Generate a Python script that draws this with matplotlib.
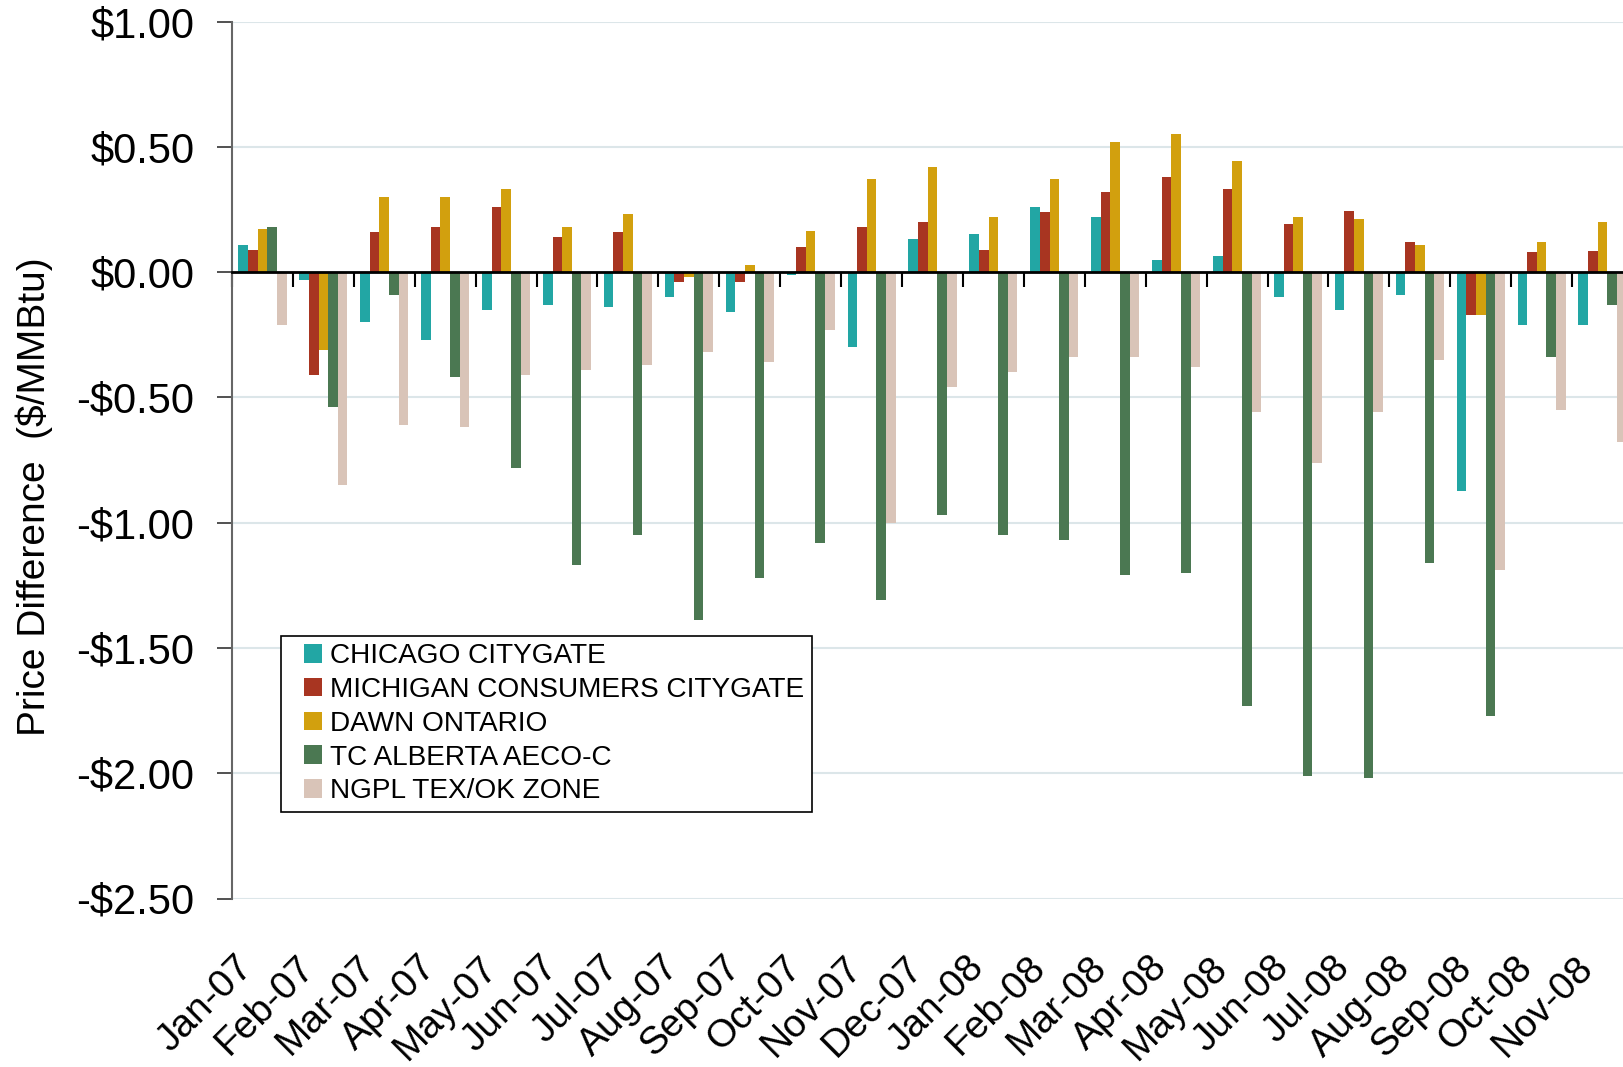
import matplotlib.pyplot as plt
import numpy as np
from matplotlib.patches import Patch, Rectangle
from matplotlib.legend_handler import HandlerPatch

plt.rcParams['font.family'] = ['Liberation Sans', 'DejaVu Sans']

# month labels and the five hub price differences ($/MMBtu)
months = ["Jan-07", "Feb-07", "Mar-07", "Apr-07", "May-07", "Jun-07", "Jul-07", "Aug-07",
          "Sep-07", "Oct-07", "Nov-07", "Dec-07", "Jan-08", "Feb-08", "Mar-08", "Apr-08",
          "May-08", "Jun-08", "Jul-08", "Aug-08", "Sep-08", "Oct-08", "Nov-08"]

chicago = [0.11, -0.03, -0.20, -0.27, -0.15, -0.13, -0.14, -0.10, -0.16, -0.01, -0.30, 0.13,
           0.15, 0.26, 0.22, 0.05, 0.065, -0.10, -0.15, -0.09, -0.875, -0.21, -0.21]
michigan = [0.09, -0.41, 0.16, 0.18, 0.26, 0.14, 0.16, -0.04, -0.04, 0.10, 0.18, 0.20,
            0.09, 0.24, 0.32, 0.38, 0.33, 0.19, 0.245, 0.12, -0.17, 0.08, 0.085]
dawn = [0.17, -0.31, 0.30, 0.30, 0.33, 0.18, 0.23, -0.02, 0.03, 0.165, 0.37, 0.42,
        0.22, 0.37, 0.52, 0.55, 0.445, 0.22, 0.21, 0.11, -0.17, 0.12, 0.20]
alberta = [0.18, -0.54, -0.09, -0.42, -0.78, -1.17, -1.05, -1.39, -1.22, -1.08, -1.31, -0.97,
           -1.05, -1.07, -1.21, -1.20, -1.73, -2.01, -2.02, -1.16, -1.77, -0.34, -0.13]
ngpl = [-0.21, -0.85, -0.61, -0.62, -0.41, -0.39, -0.37, -0.32, -0.36, -0.23, -1.00, -0.46,
        -0.40, -0.34, -0.34, -0.38, -0.56, -0.76, -0.56, -0.35, -1.19, -0.55, -0.68]

names = ["CHICAGO CITYGATE", "MICHIGAN CONSUMERS CITYGATE", "DAWN ONTARIO",
         "TC ALBERTA AECO-C", "NGPL TEX/OK ZONE"]
colors = ["#22a6a4", "#a83521", "#d2a00e", "#4b7852", "#d9c4b8"]
series = [chicago, michigan, dawn, alberta, ngpl]

fig = plt.figure(figsize=(16.23, 10.67), dpi=100)
# axes runs a bit past the right edge, like the original export
ax = fig.add_axes([232 / 1623, 1 - 898.5 / 1067, 1401 / 1623, 877 / 1067])

x = np.arange(len(months))
w = 0.158
for i, (vals, c) in enumerate(zip(series, colors)):
    ax.bar(x + (i - 2) * w, vals, width=w, color=c, zorder=3, linewidth=0)

ax.set_xlim(-0.5, len(months) - 0.5)
ax.set_ylim(-2.5, 1.0)
yt = np.arange(-2.5, 1.01, 0.5)
ax.set_yticks(yt)
ax.set_yticklabels([("-$%.2f" % -v) if v < 0 else ("$%.2f" % v) for v in yt], fontsize=30)
ax.yaxis.grid(True, color="#dce6e9", lw=1.5, zorder=0)
ax.tick_params(axis="y", direction="out", length=11, width=1.2, pad=16, color="#333333")

# category axis sits at zero, ticks between the groups
ax.spines["bottom"].set_position(("data", 0))
ax.spines["bottom"].set_linewidth(2)
ax.spines["bottom"].set_zorder(4)
ax.set_xticks(np.arange(-0.5, len(months), 1))
ax.tick_params(axis="x", direction="out", length=11, width=1.5, labelbottom=False)
for s in ["top", "right"]:
    ax.spines[s].set_visible(False)
ax.spines["left"].set_color("#666666")
ax.spines["left"].set_linewidth(1.5)

# month labels down at the bottom
for xi, m in zip(x, months):
    ax.text(xi - 0.45, -0.058, m, transform=ax.get_xaxis_transform(), rotation=45,
            ha="right", va="top", rotation_mode="anchor", fontsize=28)

fig.text(34 / 1623, 1 - 497 / 1067, "Price Difference  ($/MMBtu)", rotation=90,
         ha="center", va="center", fontsize=28)


def square(legend, orig_handle, xdescent, ydescent, width, height, fontsize):
    s = 13.5
    return Rectangle((-xdescent + width - s, -ydescent + (height - s) / 2), s, s)


handles = [Patch(facecolor=c, edgecolor="none") for c in colors]
leg = fig.legend(handles, names, loc="upper left", bbox_to_anchor=(280.5 / 1623, 1 - 635.5 / 1067),
                 fontsize=20.2, frameon=True, fancybox=False, edgecolor="black", framealpha=1,
                 borderaxespad=0, borderpad=0.27, labelspacing=0.28, handlelength=1.22,
                 handleheight=0.7, handletextpad=0.29,
                 handler_map={Patch: HandlerPatch(patch_func=square)})
leg.get_frame().set_linewidth(1.2)

fig.savefig("out.png", dpi=100)
